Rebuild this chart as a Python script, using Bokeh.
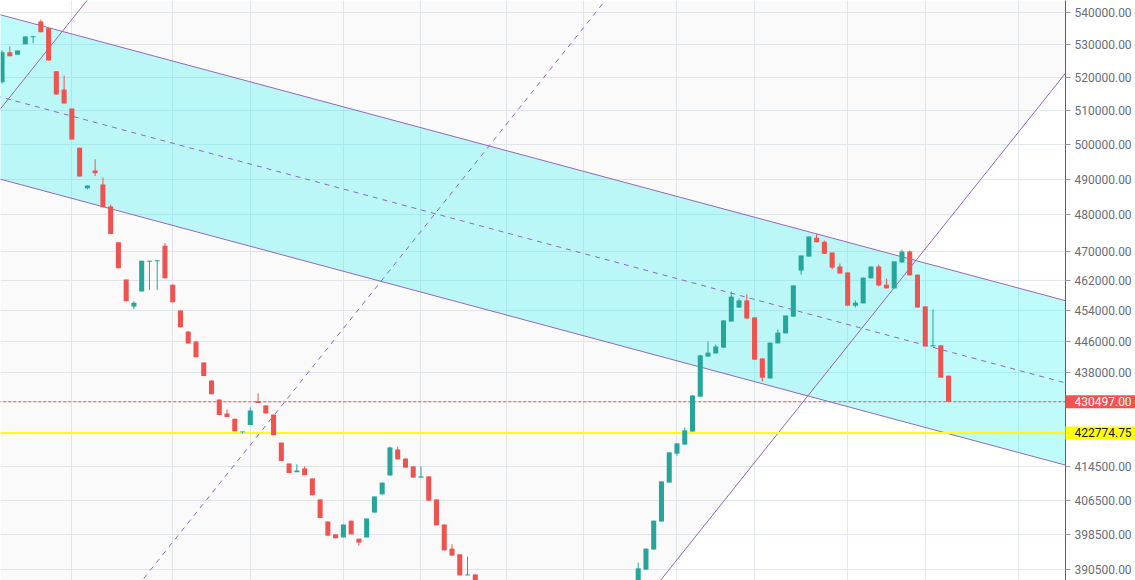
from bokeh.plotting import figure
from bokeh.models import Range1d, FixedTicker, NumeralTickFormatter, Label
from bokeh.embed import file_html
from bokeh.resources import INLINE

# ---- daily candles (bar index 0..122) ----
opens = [
    518600, 527700, 527000, 530200, 532400, 537300, 535200, 521900, 516400, 510700,
    499200, 487500, 492600, 488600, 482400, 472400, 462300, 455100, 459100, 467100,
    467200, 471500, 460900, 454000, 448500, 445900, 440500, 435900, 431100, 427600,
    426300, 422900, 424700, 430600, 429600, 427300, 420400, 415300, 413200, 414100,
    411700, 406700, 401500, 398500, 397800, 401700, 397500, 397800, 403600, 407900,
    412400, 418700, 416500, 414600, 411900, 412200, 406700, 400800, 395200, 393900,
    389100, 389300, 386800, 384600, 382400, 383100, 379800, 377100, 378300, 374700,
    372500, 374300, 376200, 373400, 371200, 373100, 376800, 379000, 377000, 380800,
    382700, 381600, 384900, 390400, 395000, 401500, 410700, 417700, 419900, 423100,
    431800, 442000, 442800, 444300, 451100, 454800, 456700, 452200, 441500, 436400,
    445400, 448000, 452400, 464700, 468500, 473700, 472600, 469600, 465800, 464200,
    455300, 455900, 462600, 465800, 460900, 459900, 466900, 469900, 463600, 455100,
    444600, 444900, 437100,
]
highs = [
    528300, 529500, 528300, 532600, 532700, 537900, 535200, 521900, 520600, 510700,
    499200, 488300, 495800, 490600, 482900, 472400, 462300, 456500, 467400, 467400,
    467500, 472200, 460900, 454000, 448500, 445900, 440500, 435900, 431100, 428600,
    426300, 423100, 429100, 432600, 429600, 427300, 420400, 415300, 415100, 414600,
    411700, 406700, 401500, 398500, 400800, 401700, 397500, 402200, 407400, 410700,
    419400, 419400, 416500, 414600, 414600, 412200, 406700, 400800, 396200, 393900,
    393400, 389300, 387200, 385300, 383800, 383600, 380400, 378900, 378800, 375600,
    374900, 376800, 376700, 374100, 373800, 377300, 379600, 379500, 381400, 383300,
    383400, 385200, 392000, 395200, 401700, 411000, 418000, 420200, 424100, 432100,
    442500, 445900, 445100, 451400, 459100, 457200, 458300, 452200, 441500, 445600,
    449000, 452700, 460700, 468800, 474000, 474800, 472900, 469600, 466600, 464200,
    456700, 462800, 465800, 466300, 462600, 467200, 470400, 470200, 463600, 455100,
    454300, 444900, 437100,
]
lows = [
    518200, 526500, 527000, 530200, 530500, 533900, 525200, 514900, 512200, 501600,
    490900, 487200, 491000, 482200, 474700, 465300, 456500, 454400, 459100, 459500,
    459500, 462600, 456200, 449600, 445400, 441800, 437000, 432400, 427200, 426700,
    423200, 422600, 424700, 430200, 427600, 422200, 415900, 413000, 413200, 412500,
    407700, 402300, 398200, 397600, 397800, 398500, 395900, 397800, 403600, 407900,
    412400, 416300, 414300, 411900, 411900, 406400, 400600, 394800, 393600, 389100,
    389100, 386500, 384100, 381900, 381000, 379200, 376500, 376200, 374100, 371800,
    371900, 373600, 372900, 370600, 370300, 372600, 375900, 376400, 376500, 380100,
    380900, 381200, 384500, 390400, 395000, 401500, 410700, 417200, 419900, 423100,
    431800, 442000, 442800, 444300, 451100, 454800, 451900, 441200, 435600, 436400,
    445400, 448000, 452400, 463600, 468500, 472400, 469300, 465000, 463900, 455300,
    454800, 455900, 462600, 460400, 459900, 459900, 466900, 463400, 454800, 444600,
    444600, 436600, 430497,
]
closes = [
    527700, 526500, 528300, 532600, 532700, 533900, 525200, 514900, 512200, 501600,
    490900, 488300, 491800, 482200, 474700, 465300, 456500, 456100, 467400, 467400,
    467500, 462600, 456200, 449600, 445400, 441800, 437000, 432400, 427200, 426700,
    423200, 423100, 428300, 430200, 427600, 422200, 415900, 413000, 413600, 412500,
    407700, 402300, 398200, 397600, 400800, 398500, 396600, 402200, 407400, 410700,
    419200, 416300, 414300, 411900, 412200, 406400, 400600, 394800, 393600, 389100,
    389300, 386800, 384600, 382400, 383100, 379800, 377100, 378300, 374700, 372500,
    374300, 376200, 373400, 371200, 373100, 376800, 379000, 377000, 380800, 382700,
    381600, 384700, 390700, 395200, 401700, 411000, 418000, 420200, 423400, 432100,
    442300, 443000, 444600, 451400, 457700, 456700, 451900, 441200, 436600, 445600,
    448200, 452700, 460700, 468800, 474000, 472400, 469300, 465500, 463900, 455300,
    456100, 462800, 465800, 460700, 459900, 467200, 469900, 463400, 454800, 444600,
    444900, 436600, 430497,
]
bars = list(range(len(closes)))

# ---- horizontal levels ----
last_close = 430497.00
level_price = 422774.75

# ---- price axis ticks ----
price_ticks = [540000, 530000, 520000, 510000, 500000, 490000, 480000, 470000,
               462000, 454000, 446000, 438000, 414500, 406500, 398500, 390500]
grid_ticks = price_ticks + [430500, 422500]
time_grid = [9, 22, 32, 44, 54, 65, 75, 87, 97, 109, 119, 131]

# ---- descending parallel channel (bar, price) ----
fall_x = [-2.0, 140.0]
fall_upper = [540550, 455000]
fall_mid = [515280, 433720]
fall_lower = [491180, 413440]

# ---- ascending parallel channel (bar, price) ----
rise_y = [550256, 383449]
rise_upper_x = [13.00, -50.80]
rise_mid_x = [79.81, 16.00]
rise_lower_x = [146.62, 82.81]

UP, DOWN = "#26a69a", "#ef5350"
CHANNEL = "#9467bd"
X_START, X_END = -0.1985, 137.08

p = figure(
    frame_width=1065, frame_height=580,
    y_axis_type="log", y_axis_location="right", x_axis_location=None,
    x_range=Range1d(X_START, X_END), y_range=Range1d(387935, 543884),
    output_backend="svg", toolbar_location=None,
    min_border_left=0, min_border_top=0, min_border_bottom=0, min_border_right=70,
)
p.background_fill_color = "#ffffff"
p.border_fill_color = "#ffffff"
p.outline_line_color = None

# grid
p.xgrid.ticker = FixedTicker(ticks=time_grid)
p.ygrid.ticker = FixedTicker(ticks=grid_ticks)
p.xgrid.grid_line_color = "#e4e9ef"
p.ygrid.grid_line_color = "#e4e9ef"

# right price axis
ax = p.yaxis[0]
ax.ticker = FixedTicker(ticks=price_ticks, minor_ticks=[])
ax.formatter = NumeralTickFormatter(format="0.00")
ax.axis_line_color = "#5d606b"
ax.major_tick_line_color = "#9598a1"
ax.major_tick_out = 5
ax.major_tick_in = 0
ax.minor_tick_line_color = None
ax.major_label_standoff = 4
ax.major_label_text_font = "Roboto"
ax.major_label_text_font_size = "12px"
ax.major_label_text_color = "#6a6d78"

# channel fills
p.patch([rise_upper_x[0], rise_upper_x[1], rise_lower_x[1], rise_lower_x[0]],
        [rise_y[0], rise_y[1], rise_y[1], rise_y[0]],
        fill_color="#a0a0a0", fill_alpha=0.05, line_color=None)
p.patch([fall_x[0], fall_x[1], fall_x[1], fall_x[0]],
        [fall_upper[0], fall_upper[1], fall_lower[1], fall_lower[0]],
        fill_color="#00f0f0", fill_alpha=0.25, line_color=None)

# channel rails
p.line(fall_x, fall_upper, line_color=CHANNEL, line_width=1)
p.line(fall_x, fall_lower, line_color=CHANNEL, line_width=1)
p.line(fall_x, fall_mid, line_color=CHANNEL, line_width=1, line_dash="5 5")
p.line(rise_upper_x, rise_y, line_color=CHANNEL, line_width=1)
p.line(rise_lower_x, rise_y, line_color=CHANNEL, line_width=1)
p.line(rise_mid_x, rise_y, line_color=CHANNEL, line_width=1, line_dash="5 5")

# horizontal levels
p.line([-5, 145], [last_close, last_close], line_color=DOWN, line_width=1, line_dash="3 2")
p.line([-5, 145], [level_price, level_price], line_color="#ffff00", line_width=2)

# candles
colors = [UP if c >= o else DOWN for o, c in zip(opens, closes)]
tops = [max(o, c) for o, c in zip(opens, closes)]
bottoms = [min(o, c) for o, c in zip(opens, closes)]
p.segment(x0=bars, y0=lows, x1=bars, y1=highs, line_color=colors, line_width=1)
p.vbar(x=bars, top=tops, bottom=bottoms, width=0.65, fill_color=colors, line_color=None)

# price tags on the axis strip (kept in the side panel so they are not clipped
# to the frame; the tag box starts at the frame's right edge)
for val, bg, fg in [(last_close, DOWN, "#ffffff"), (level_price, "#ffff00", "#131722")]:
    p.add_layout(Label(
        x=X_END, y=val, x_units="data", y_units="data", text=f"{val:.2f}",
        text_font="Roboto", text_font_size="12px", text_color=fg,
        text_baseline="middle", text_align="left",
        background_fill_color=bg,
        padding=dict(left=9, right=4, top=2, bottom=2),
    ), "right")

open("out.html", "w").write(file_html(p, INLINE))
